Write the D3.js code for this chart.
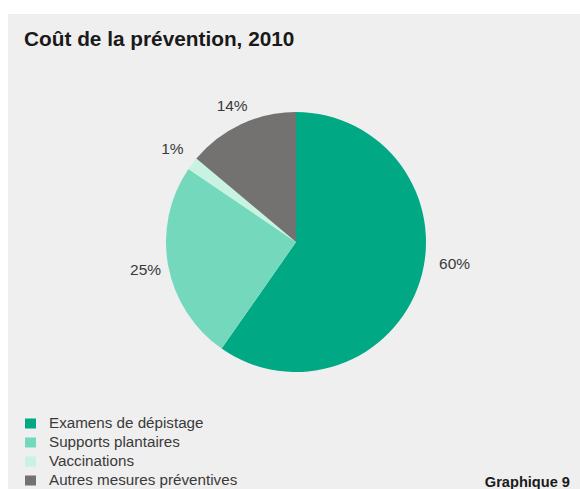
<!DOCTYPE html>
<html>
<head>
<meta charset="utf-8">
<script src="https://cdn.jsdelivr.net/npm/d3@7"></script>
<style>
  html, body { margin: 0; padding: 0; background: #fff; }
  svg { display: block; }
  text { font-family: "Liberation Sans", Arial, Helvetica, sans-serif; }
</style>
</head>
<body>
<svg id="chart" width="580" height="489"></svg>
<script>
const categories = ["Examens de dépistage", "Supports plantaires", "Vaccinations", "Autres mesures préventives"];
const values = [59.7, 24.8, 1.6, 13.9];
const valueLabels = ["60%", "25%", "1%", "14%"];
const colors = ["#00a983", "#74d9bc", "#c8f3e2", "#737271"];
const title = "Coût de la prévention, 2010";
const footer = "Graphique 9";

const svg = d3.select("#chart");
svg.append("rect").attr("x", 8).attr("y", 14).attr("width", 572).attr("height", 475).attr("fill", "#efefef");

svg.append("text").attr("x", 24).attr("y", 46)
  .attr("font-size", 20.8).attr("font-weight", "bold").attr("fill", "#1a1a1a").text(title);

const cx = 296, cy = 242, r = 130;
const pie = d3.pie().sort(null).value(d => d);
const arcs = pie(values);
const arc = d3.arc().innerRadius(0).outerRadius(r);
const g = svg.append("g").attr("transform", `translate(${cx},${cy})`);
g.selectAll("path").data(arcs).join("path")
  .attr("d", arc).attr("fill", (d, i) => colors[i]);

// label placement style: angle / radius tweaks per label
const labelShift = [-0.17, 0, 0, 0];
const labelRExtra = [7, 0, 2, -2];
const labelR = 153;
const pos = (d, i) => {
  const a = (d.startAngle + d.endAngle) / 2 + labelShift[i];
  const rr = labelR + labelRExtra[i];
  return [rr * Math.sin(a), -rr * Math.cos(a)];
};
g.selectAll("text.lbl").data(arcs).join("text").attr("class", "lbl")
  .attr("x", (d, i) => pos(d, i)[0])
  .attr("y", (d, i) => pos(d, i)[1])
  .attr("dy", "0.36em").attr("text-anchor", "middle")
  .attr("font-size", 15.5).attr("fill", "#3a3a3a")
  .text((d, i) => valueLabels[i]);

const leg = svg.append("g").attr("transform", "translate(25,418.5)");
const row = leg.selectAll("g").data(categories).join("g")
  .attr("transform", (d, i) => `translate(0,${i * 19})`);
row.append("rect").attr("width", 11).attr("height", 10).attr("fill", (d, i) => colors[i]);
row.append("text").attr("x", 24).attr("y", 9.8).attr("font-size", 15.2).attr("fill", "#3a3a3a").text(d => d);

svg.append("text").attr("x", 570).attr("y", 486.5).attr("text-anchor", "end")
  .attr("font-size", 14.6).attr("font-weight", "bold").attr("fill", "#1a1a1a").text(footer);
</script>
</body>
</html>
